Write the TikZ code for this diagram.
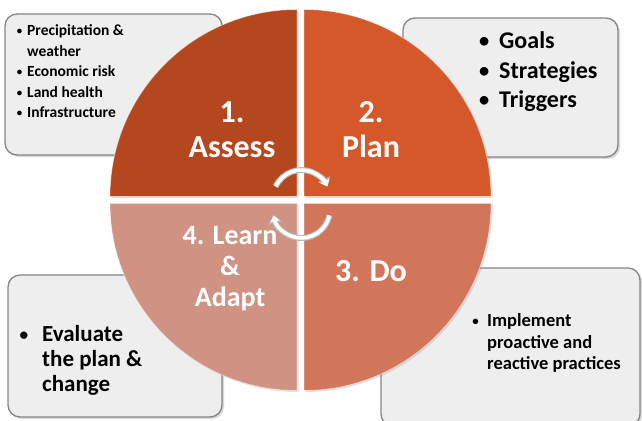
\documentclass[tikz,border=0pt]{standalone}
\usepackage{fontspec}
\setmainfont{Carlito}
\usetikzlibrary{shadows,arrows.meta}
\definecolor{assess}{HTML}{B5471F}
\definecolor{plan}{HTML}{D5582B}
\definecolor{doq}{HTML}{D2765B}
\definecolor{learn}{HTML}{D09283}
\definecolor{boxfill}{HTML}{EEEEEE}
\definecolor{boxline}{HTML}{858585}
\newcommand{\mybul}[2]{\llap{\raisebox{#2}{\scalebox{#1}{•}}\hspace{5pt}}}
\begin{document}
\begin{tikzpicture}[x=1pt,y=1pt,
  infobox/.style={draw=boxline, line width=1.3pt, fill=boxfill, rounded corners=12pt,
    drop shadow={opacity=0.3, shadow xshift=2pt, shadow yshift=-2pt}, inner sep=0pt},
  quad/.style={draw=white, draw opacity=0.45, line width=0.8pt,
    drop shadow={opacity=0.25, shadow xshift=1.5pt, shadow yshift=-1.5pt}},
  qlabel/.style={text=white, align=center, inner sep=0pt, anchor=base},
  blist/.style={text=black, align=left, inner sep=0pt, anchor=base west},
  cycout/.style={line width=6pt, draw=gray!55, -{Triangle[length=8pt,width=13pt]}},
  cycin/.style={line width=3.6pt, draw=white, -{Triangle[length=6pt,width=9.5pt]}}
]
\useasboundingbox (0,0) rectangle (642,420);
% boxes
\node[infobox, minimum width=217pt, minimum height=141pt] (tlbox) at (113.5,335.5) {};
\node[infobox, minimum width=215pt, minimum height=139pt] (trbox) at (510.5,332.5) {};
\node[infobox, minimum width=214pt, minimum height=142pt] (blbox) at (115,74) {};
\node[infobox, minimum width=259pt, minimum height=158pt] (brbox) at (510.5,73) {};
% quadrants
\fill[assess, quad] (297,223.5) -- ++(-187,0) arc[start angle=180, end angle=90, radius=187] -- cycle;
\fill[plan, quad] (304,223.5) -- ++(0,187) arc[start angle=90, end angle=0, radius=187] -- cycle;
\fill[doq, quad] (304,216.5) -- ++(187,0) arc[start angle=0, end angle=-90, radius=187] -- cycle;
\fill[learn, quad] (297,216.5) -- ++(0,-187) arc[start angle=270, end angle=180, radius=187] -- cycle;
% quadrant labels (anchor = baseline of last line)
\node[qlabel, font=\bfseries\fontsize{32}{35}\selectfont] (assess) at (232,262) {1.\\Assess};
\node[qlabel, font=\bfseries\fontsize{32}{35}\selectfont] (plan) at (371,262) {2.\\Plan};
\node[qlabel, font=\bfseries\fontsize{28}{31}\selectfont] (learnlbl) at (230,113) {4. Learn\\\&\\Adapt};
\node[qlabel, font=\bfseries\fontsize{32}{35}\selectfont] (dolbl) at (371,138) {3. Do};
% box texts
\node[blist, font=\bfseries\fontsize{15.5}{20.5}\selectfont] (tltext) at (27,302)
  {\mybul{0.7}{1.3pt}Precipitation \&\\weather\\\mybul{0.7}{1.3pt}Economic risk\\\mybul{0.7}{1.3pt}Land health\\\mybul{0.7}{1.3pt}Infrastructure};
\node[blist, font=\bfseries\fontsize{24}{29.5}\selectfont] (trtext) at (499,312)
  {\llap{\raisebox{1pt}{\scalebox{0.85}{•}}\hspace{10pt}}Goals\\\llap{\raisebox{1pt}{\scalebox{0.85}{•}}\hspace{10pt}}Strategies\\\llap{\raisebox{1pt}{\scalebox{0.85}{•}}\hspace{10pt}}Triggers};
\node[blist, font=\bfseries\fontsize{23}{25}\selectfont] (bltext) at (42,28)
  {\llap{\raisebox{1.5pt}{\scalebox{0.75}{•}}\hspace{14pt}}Evaluate\\the plan \&\\change};
\node[blist, font=\bfseries\fontsize{18.5}{21.5}\selectfont] (brtext) at (487,50)
  {\llap{\raisebox{1.5pt}{\scalebox{0.7}{•}}\hspace{8.5pt}}Implement\\proactive and\\reactive practices};
% cycle arrows
\coordinate (upstart) at (275.7,233.5);
\coordinate (lowstart) at (329.4,204.6);
\draw[cycout] (upstart) arc[start angle=155, end angle=25, radius=28.5];
\draw[cycin] (upstart) arc[start angle=155, end angle=25, radius=28.5];
\draw[cycout] (lowstart) arc[start angle=-12, end angle=-168, radius=28.5];
\draw[cycin] (lowstart) arc[start angle=-12, end angle=-168, radius=28.5];
\end{tikzpicture}
\end{document}
